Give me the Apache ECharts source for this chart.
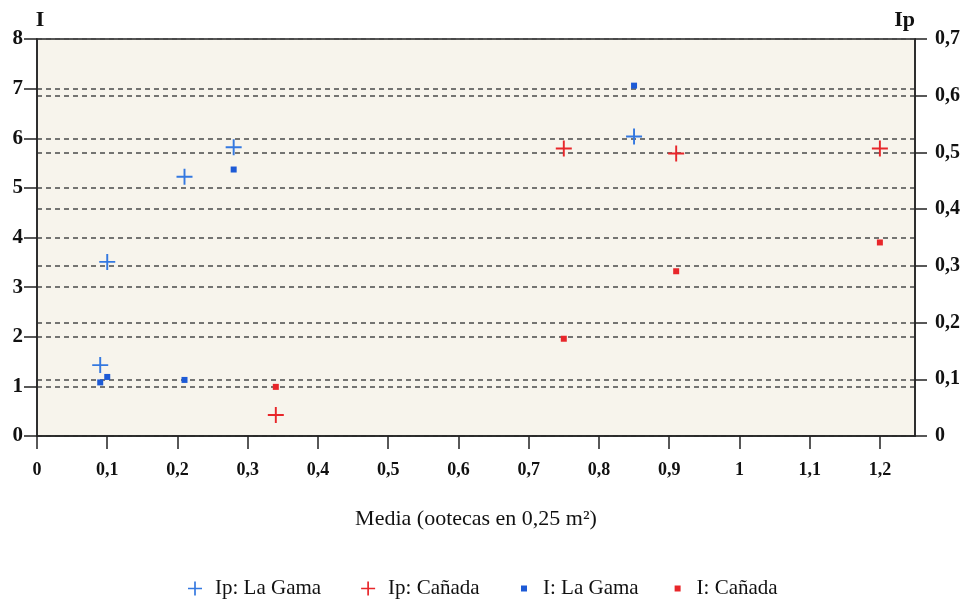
<!DOCTYPE html>
<html>
<head>
<meta charset="utf-8">
<script src="https://cdn.jsdelivr.net/npm/echarts@6/dist/echarts.min.js"></script>
<style>
  html, body { margin: 0; padding: 0; background: #fff; }
  #chart { width: 970px; height: 602px; }
</style>
</head>
<body>
<div id="chart"></div>
<script>
// x values (Media) and indices per site
var gamaX = [0.09, 0.10, 0.21, 0.28, 0.85];
var gamaIp = [0.125, 0.307, 0.457, 0.509, 0.528];
var gamaI = [1.08, 1.19, 1.13, 5.37, 7.06];

var canadaX = [0.34, 0.75, 0.91, 1.20];
var canadaIp = [0.037, 0.507, 0.498, 0.507];
var canadaI = [0.99, 1.96, 3.32, 3.90];

var xTicks = [0, 0.1, 0.2, 0.3, 0.4, 0.5, 0.6, 0.7, 0.8, 0.9, 1, 1.1, 1.2];

var FONT = 'Liberation Serif';
var PLUS = 'path://M4.4,0h1.2v4.4h4.4v1.2h-4.4v4.4h-1.2v-4.4h-4.4v-1.2h4.4z';
var BLUE = '#3478e0';
var BLUE_SQ = '#1d5ad6';
var RED = '#e8262a';

function comma(v) {
  return String(parseFloat(v.toFixed(2))).replace('.', ',');
}
function pairs(xs, ys) {
  return xs.map(function (x, i) { return [x, ys[i]]; });
}

var chart = echarts.init(document.getElementById('chart'));

chart.setOption({
  animation: false,
  backgroundColor: '#fff',
  grid: {
    left: 37, right: 55, top: 39, bottom: 166,
    show: true,
    backgroundColor: '#f7f4ec',
    borderColor: '#222',
    borderWidth: 1.5
  },
  legend: [{
    left: 183, top: 573,
    itemWidth: 14, itemHeight: 14, itemGap: 40,
    textStyle: { fontFamily: FONT, fontSize: 21, color: '#111', padding: [0, 0, 0, 8] },
    data: [
      { name: 'Ip: La Gama', icon: PLUS },
      { name: 'Ip: Cañada', icon: PLUS }
    ]
  }, {
    left: 516, top: 573,
    itemWidth: 6, itemHeight: 6, itemGap: 36,
    textStyle: { fontFamily: FONT, fontSize: 21, color: '#111', padding: [0, 0, 0, 11] },
    data: [
      { name: 'I: La Gama', icon: 'rect' },
      { name: 'I: Cañada', icon: 'rect' }
    ]
  }],
  xAxis: {
    type: 'value',
    min: 0, max: 1.25,
    name: 'Media (ootecas en 0,25 m²)',
    nameLocation: 'middle',
    nameGap: 72,
    nameTextStyle: { fontFamily: FONT, fontSize: 22, color: '#111' },
    axisLine: { lineStyle: { color: '#222', width: 1.5 } },
    axisTick: { show: true, length: 13, customValues: xTicks, lineStyle: { color: '#222', width: 1.5 } },
    axisLabel: {
      customValues: xTicks,
      margin: 25,
      fontFamily: FONT, fontSize: 18, fontWeight: 'bold', color: '#111',
      formatter: comma
    },
    splitLine: { show: false }
  },
  yAxis: [{
    type: 'value',
    min: 0, max: 8, interval: 1,
    position: 'left',
    name: 'I',
    nameLocation: 'end',
    nameGap: 8,
    nameTextStyle: { fontFamily: FONT, fontSize: 22, fontWeight: 'bold', color: '#111', padding: [0, 0, 0, 6] },
    axisLine: { show: true, lineStyle: { color: '#222', width: 1.5 } },
    axisTick: { show: true, length: 13, lineStyle: { color: '#222', width: 1.5 } },
    axisLabel: { margin: 14, fontFamily: FONT, fontSize: 21, fontWeight: 'bold', color: '#111', formatter: comma },
    splitLine: { show: true, lineStyle: { color: '#4a4a4a', width: 1.5, type: [5, 4] } }
  }, {
    type: 'value',
    min: 0, max: 0.7, interval: 0.1,
    position: 'right',
    name: 'Ip',
    nameLocation: 'end',
    nameGap: 8,
    nameTextStyle: { fontFamily: FONT, fontSize: 22, fontWeight: 'bold', color: '#111', align: 'right' },
    axisLine: { show: true, lineStyle: { color: '#222', width: 1.5 } },
    axisTick: { show: true, length: 12, lineStyle: { color: '#222', width: 1.5 } },
    axisLabel: { margin: 20, fontFamily: FONT, fontSize: 20, fontWeight: 'bold', color: '#111', formatter: comma },
    splitLine: { show: true, lineStyle: { color: '#4a4a4a', width: 1.5, type: [5, 4] } }
  }],
  series: [{
    name: 'Ip: La Gama',
    type: 'scatter',
    yAxisIndex: 1,
    symbol: PLUS,
    symbolSize: 16,
    itemStyle: { color: BLUE, opacity: 1 },
    data: pairs(gamaX, gamaIp),
    z: 5
  }, {
    name: 'Ip: Cañada',
    type: 'scatter',
    yAxisIndex: 1,
    symbol: PLUS,
    symbolSize: 16,
    itemStyle: { color: RED, opacity: 1 },
    data: pairs(canadaX, canadaIp),
    z: 5
  }, {
    name: 'I: La Gama',
    type: 'scatter',
    yAxisIndex: 0,
    symbol: 'rect',
    symbolSize: 6,
    itemStyle: { color: BLUE_SQ, opacity: 1 },
    data: pairs(gamaX, gamaI),
    z: 5
  }, {
    name: 'I: Cañada',
    type: 'scatter',
    yAxisIndex: 0,
    symbol: 'rect',
    symbolSize: 6,
    itemStyle: { color: RED, opacity: 1 },
    data: pairs(canadaX, canadaI),
    z: 5
  }]
});
</script>
</body>
</html>
